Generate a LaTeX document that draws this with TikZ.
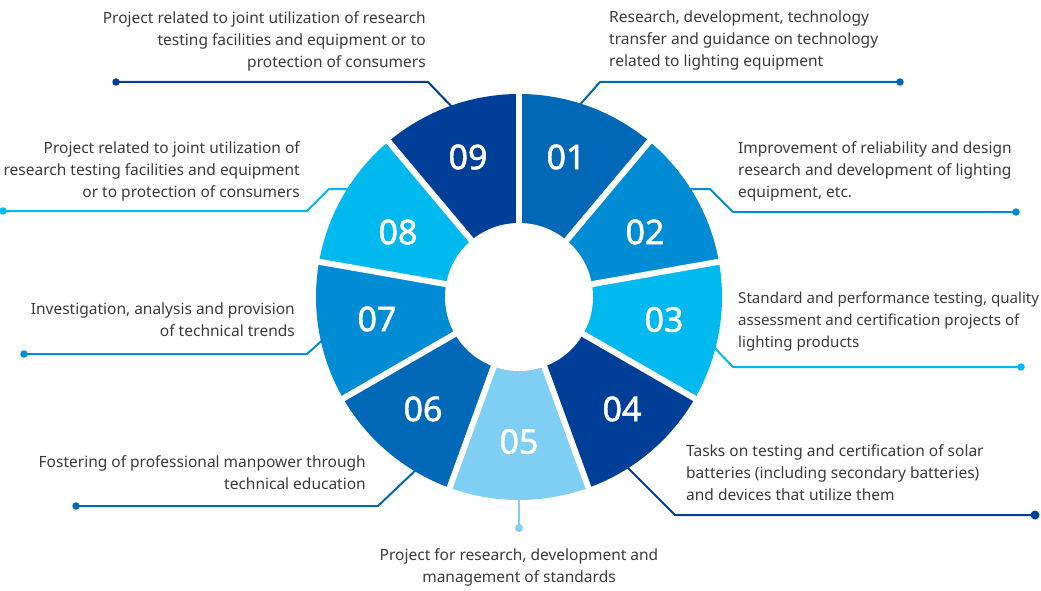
\documentclass[tikz,border=0pt]{standalone}
\usepackage{fontspec}
\setmainfont{Noto Sans}
\newfontfamily\numfont[FakeBold=1.5]{Noto Sans}
\definecolor{cA}{HTML}{0068B7}
\definecolor{cB}{HTML}{008BD5}
\definecolor{cC}{HTML}{00B9EE}
\definecolor{cD}{HTML}{003F98}
\definecolor{cE}{HTML}{7FCEF4}
\definecolor{txt}{HTML}{3A3A3A}
\tikzset{
  conn/.style={line width=2pt, line join=miter},
  dotmark/.style={circle, fill, inner sep=0pt, minimum size=7.5pt},
  desc/.style={text=txt, inner sep=0pt, font=\fontsize{15.5}{22}\selectfont},
  num/.style={text=white, inner sep=0pt, font=\numfont\fontsize{34}{34}\selectfont},
}
\begin{document}
\begin{tikzpicture}[x=1pt,y=-1pt]
\useasboundingbox (0,0) rectangle (1041,591);
% connector coordinates
\coordinate (r9) at (455,110); \coordinate (b9) at (428,82);  \coordinate (d9) at (116,82);
\coordinate (r8) at (352,189); \coordinate (b8a) at (329,189); \coordinate (b8) at (307,211); \coordinate (d8) at (3,211);
\coordinate (r1) at (577,108); \coordinate (b1) at (600,82);  \coordinate (d1) at (900,82);
\coordinate (r2) at (688,189); \coordinate (b2a) at (710,189); \coordinate (b2) at (733,212); \coordinate (d2) at (1016,212);
\coordinate (r3) at (710,343); \coordinate (b3) at (733,367); \coordinate (d3) at (1021,367);
\coordinate (r4) at (624,464); \coordinate (b4) at (675,515); \coordinate (d4) at (1035,515);
\coordinate (r5) at (519,492); \coordinate (d5) at (519,528);
\coordinate (r6) at (419,467); \coordinate (b6) at (378,506); \coordinate (d6) at (76,506);
\coordinate (r7) at (327,336); \coordinate (b7) at (307,354); \coordinate (d7) at (24,354);
\draw[conn, cD] (r9) -- (b9) -- (d9);
\draw[conn, cC] (r8) -- (b8a) -- (b8) -- (d8);
\draw[conn, cA] (r1) -- (b1) -- (d1);
\draw[conn, cB] (r2) -- (b2a) -- (b2) -- (d2);
\draw[conn, cC] (r3) -- (b3) -- (d3);
\draw[conn, cD] (r4) -- (b4) -- (d4);
\draw[conn, cE, line width=2.5pt] (r5) -- (d5);
\draw[conn, cA] (r6) -- (b6) -- (d6);
\draw[conn, cB] (r7) -- (b7) -- (d7);
\node[dotmark, cD] (p9) at (d9) {};
\node[dotmark, cC] (p8) at (d8) {};
\node[dotmark, cA] (p1) at (d1) {};
\node[dotmark, cB] (p2) at (d2) {};
\node[dotmark, cC] (p3) at (d3) {};
\node[dotmark, cD, minimum size=9pt] (p4) at (d4) {};
\node[dotmark, cE, minimum size=8pt] (p5) at (d5) {};
\node[dotmark, cA] (p6) at (d6) {};
\node[dotmark, cB] (p7) at (d7) {};
% ring
\begin{scope}[shift={(519,297)}, y=1pt]
  \foreach \k/\c in {1/cA,2/cB,3/cC,4/cD,5/cE,6/cA,7/cB,8/cC,9/cD}{
    \pgfmathsetmacro{\s}{90-40*(\k-1)}
    \fill[\c] (0,0) -- (\s:203) arc[start angle=\s, end angle=\s-40, radius=203] -- cycle;
  }
  \foreach \a in {90,50,10,-30,-70,-110,-150,170,130}
    \draw[white, line width=6pt] (0,0) -- (\a:215);
  \fill[white] (0,0) circle (74);
  \node[num] (n1) at (47,140) {01};
  \node[num] (n2) at (126,65) {02};
  \node[num] (n3) at (145,-22.5) {03};
  \node[num] (n4) at (103,-112) {04};
  \node[num] (n5) at (0,-144.5) {05};
  \node[num] (n6) at (-96,-112) {06};
  \node[num] (n7) at (-142,-22) {07};
  \node[num] (n8) at (-121,65) {08};
  \node[num] (n9) at (-51,140) {09};
\end{scope}
% texts
\node[desc, align=right, anchor=north east] (t9) at (426,11) {Project related to joint utilization of research\\testing facilities and equipment or to\\protection of consumers};
\node[desc, align=right, anchor=north east] (t8) at (300,141) {Project related to joint utilization of\\research testing facilities and equipment\\or to protection of consumers};
\node[desc, align=left, anchor=north west] (t1) at (609,11) {Research, development, technology\\transfer and guidance on technology\\related to lighting equipment};
\node[desc, align=left, anchor=north west] (t2) at (738,141) {Improvement of reliability and design\\research and development of lighting\\equipment, etc.};
\node[desc, align=left, anchor=north west, font=\fontsize{15.1}{22}\selectfont] (t3) at (738,292) {Standard and performance testing, quality\\assessment and certification projects of\\lighting products};
\node[desc, align=left, anchor=north west] (t4) at (686,444) {Tasks on testing and certification of solar\\batteries (including secondary batteries)\\and devices that utilize them};
\node[desc, align=center, anchor=north] (t5) at (519,548) {Project for research, development and\\management of standards};
\node[desc, align=right, anchor=north east] (t6) at (366,455) {Fostering of professional manpower through\\technical education};
\node[desc, align=right, anchor=north east] (t7) at (295,303) {Investigation, analysis and provision\\of technical trends};
\end{tikzpicture}
\end{document}
